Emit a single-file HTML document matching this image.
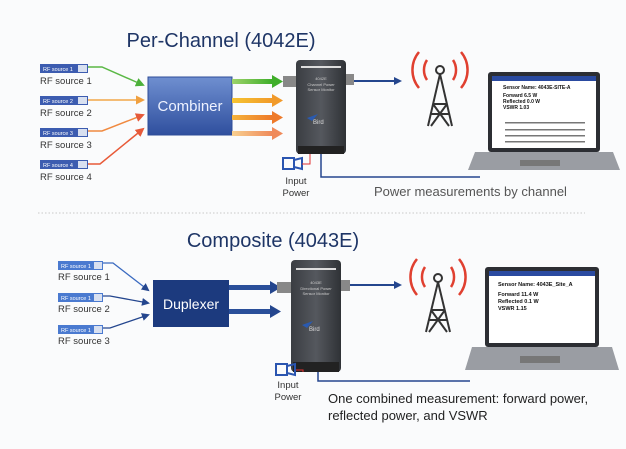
<!DOCTYPE html>
<html><head><style>
html,body{margin:0;padding:0;background:#fafbfc;}
svg{display:block;font-family:"Liberation Sans",sans-serif;}
</style></head><body>
<svg width="626" height="449" viewBox="0 0 626 449" xmlns="http://www.w3.org/2000/svg">
<defs>
<linearGradient id="cb" x1="0" y1="0" x2="0" y2="1"><stop offset="0" stop-color="#6f8fd0"/><stop offset="1" stop-color="#2f4f9e"/></linearGradient>
<linearGradient id="dev" x1="0" y1="0" x2="1" y2="0"><stop offset="0" stop-color="#3a3d42"/><stop offset="0.5" stop-color="#55585e"/><stop offset="1" stop-color="#2f3236"/></linearGradient>
<linearGradient id="g1" x1="0" x2="1"><stop offset="0" stop-color="#9dd36a"/><stop offset="1" stop-color="#3fae2a"/></linearGradient>
<linearGradient id="g2" x1="0" x2="1"><stop offset="0" stop-color="#f6c431"/><stop offset="1" stop-color="#f19a2a"/></linearGradient>
<linearGradient id="g3" x1="0" x2="1"><stop offset="0" stop-color="#f5b33a"/><stop offset="1" stop-color="#ee7a2a"/></linearGradient>
<linearGradient id="g4" x1="0" x2="1"><stop offset="0" stop-color="#f8d090"/><stop offset="1" stop-color="#ef8a5a"/></linearGradient>
<marker id="ab" markerWidth="8" markerHeight="8" refX="6" refY="4" orient="auto" markerUnits="userSpaceOnUse"><path d="M0,0 L8,4 L0,8z" fill="#24468e"/></marker>
<marker id="ag" markerWidth="9" markerHeight="9" refX="7" refY="4.5" orient="auto" markerUnits="userSpaceOnUse"><path d="M0,0 L9,4.5 L0,9z" fill="#4cb03a"/></marker>
<marker id="ao" markerWidth="9" markerHeight="9" refX="7" refY="4.5" orient="auto" markerUnits="userSpaceOnUse"><path d="M0,0 L9,4.5 L0,9z" fill="#f0a040"/></marker>
<marker id="ar" markerWidth="9" markerHeight="9" refX="7" refY="4.5" orient="auto" markerUnits="userSpaceOnUse"><path d="M0,0 L9,4.5 L0,9z" fill="#e65a3a"/></marker>
</defs>

<!-- TOP -->
<text x="221" y="47" font-size="20" fill="#1e3566" text-anchor="middle">Per-Channel (4042E)</text>
<g font-size="9.5" fill="#333">
<g id="src">
</g>
</g>
<!-- rf source badges top -->
<g>
<rect x="40" y="64" width="48" height="9" fill="#3c5cb0"/><rect x="78" y="65" width="9" height="7" fill="#d8e0f0"/><text x="43" y="71" font-size="5.5" fill="#fff">RF source 1</text>
<rect x="40" y="96" width="48" height="9" fill="#3c5cb0"/><rect x="78" y="97" width="9" height="7" fill="#d8e0f0"/><text x="43" y="103" font-size="5.5" fill="#fff">RF source 2</text>
<rect x="40" y="128" width="48" height="9" fill="#3c5cb0"/><rect x="78" y="129" width="9" height="7" fill="#d8e0f0"/><text x="43" y="135" font-size="5.5" fill="#fff">RF source 3</text>
<rect x="40" y="160" width="48" height="9" fill="#3c5cb0"/><rect x="78" y="161" width="9" height="7" fill="#d8e0f0"/><text x="43" y="167" font-size="5.5" fill="#fff">RF source 4</text>
</g>
<g font-size="9.5" fill="#333">
<text x="40" y="84">RF source 1</text><text x="40" y="116">RF source 2</text><text x="40" y="148">RF source 3</text><text x="40" y="180">RF source 4</text>
</g>
<g fill="none" stroke-width="1.5">
<path d="M88,67 L102,67 L143,85" stroke="#5ab845" marker-end="url(#ag)"/>
<path d="M88,100 L143,100" stroke="#f2a848" marker-end="url(#ao)"/>
<path d="M88,131 L102,131 L143,115" stroke="#f08a40" marker-end="url(#ar)"/>
<path d="M88,164 L100,164 L143,129" stroke="#e85a38" marker-end="url(#ar)"/>
</g>
<rect x="148" y="77" width="84" height="58" fill="url(#cb)" stroke="#2e4c98"/>
<text x="190" y="111" font-size="15" fill="#eef2ff" text-anchor="middle">Combiner</text>
<g>
<rect x="232" y="79" width="40" height="5" fill="url(#g1)"/><path d="M272,75 L283,81.5 L272,88z" fill="#3fae2a"/>
<rect x="232" y="98" width="40" height="5" fill="url(#g2)"/><path d="M272,94 L283,100.5 L272,107z" fill="#f19a2a"/>
<rect x="232" y="115" width="40" height="5" fill="url(#g3)"/><path d="M272,111 L283,117.5 L272,124z" fill="#ee7a2a"/>
<rect x="232" y="131" width="40" height="5" fill="url(#g4)"/><path d="M272,127 L283,133.5 L272,140z" fill="#ef8a5a"/>
</g>
<!-- device top -->
<rect x="283" y="76" width="14" height="11" fill="#888"/><rect x="344" y="74" width="10" height="11" fill="#888"/>
<rect x="296" y="60" width="50" height="94" rx="4" fill="url(#dev)"/>
<rect x="301" y="66" width="40" height="2" fill="#ddd"/>
<text x="321" y="80" font-size="4" fill="#ccc" text-anchor="middle">4042E</text>
<text x="321" y="86" font-size="4" fill="#ccc" text-anchor="middle">Channel Power</text>
<text x="321" y="91" font-size="4" fill="#ccc" text-anchor="middle">Sensor Monitor</text>
<path d="M307,118 L318,114 L312,121z" fill="#2a5ab0"/><text x="313" y="124" font-size="6" fill="#ddd">Bird</text>
<rect x="298" y="146" width="46" height="8" fill="#222"/>
<path d="M354,81 L400,81" stroke="#24468e" stroke-width="2" marker-end="url(#ab)"/>
<!-- tower top -->
<g stroke="#e04030" stroke-width="2.5" fill="none">
<path d="M427,80 A18,18 0 0 1 427,60"/><path d="M419,88 A28,28 0 0 1 419,52"/>
<path d="M453,80 A18,18 0 0 0 453,60"/><path d="M461,88 A28,28 0 0 0 461,52"/>
</g>
<g stroke="#333" stroke-width="2" fill="none"><circle cx="440" cy="70" r="4"/><path d="M440,74 L428,126 M440,74 L452,126 M433,104 L447,104 M431,114 L449,114 M433,104 L449,126 M447,104 L431,126"/></g>
<!-- laptop top -->
<rect x="488" y="72" width="112" height="80" rx="3" fill="#2c2e33"/>
<rect x="492" y="76" width="104" height="72" fill="#fff"/><rect x="492" y="76" width="104" height="5" fill="#2a4aa0"/>
<text x="503" y="89" font-size="5" font-weight="bold" fill="#111">Sensor Name: 4043E-SITE-A</text>
<text x="503" y="97" font-size="5" font-weight="bold" fill="#111">Forward      6.5 W</text>
<text x="503" y="103" font-size="5" font-weight="bold" fill="#111">Reflected    0.0 W</text>
<text x="503" y="109" font-size="5" font-weight="bold" fill="#111">VSWR         1.03</text>
<g fill="#777"><rect x="505" y="122" width="80" height="1.5"/><rect x="505" y="129" width="80" height="1.5"/><rect x="505" y="135" width="80" height="1.5"/><rect x="505" y="141" width="80" height="1.5"/></g>
<path d="M475,152 L613,152 L620,170 L468,170z" fill="#9a9da3"/><rect x="520" y="160" width="40" height="6" fill="#777"/>
<!-- input power top -->
<rect x="283" y="158" width="11" height="11" fill="none" stroke="#2a55b0" stroke-width="2"/><path d="M294,160 L302,158 L302,169 L294,167" fill="none" stroke="#2a55b0" stroke-width="2"/>
<path d="M310,154 L310,164 L302,164" stroke="#e03030" fill="none"/>
<text x="296" y="184" font-size="9.5" fill="#333" text-anchor="middle">Input</text><text x="296" y="196" font-size="9.5" fill="#333" text-anchor="middle">Power</text>
<path d="M321,154 L321,177 L480,177" stroke="#24468e" stroke-width="1.5" fill="none"/>
<text x="374" y="196" font-size="13" fill="#555">Power measurements by channel</text>
<line x1="38" y1="213" x2="585" y2="213" stroke="#c8c8c8" stroke-dasharray="1.5,2"/>

<!-- BOTTOM -->
<text x="273" y="247" font-size="20" fill="#1e3566" text-anchor="middle">Composite (4043E)</text>
<g>
<rect x="58" y="261" width="45" height="9" fill="#4a7ad0"/><rect x="94" y="262" width="8" height="7" fill="#d8e0f0"/><text x="61" y="268" font-size="5.5" fill="#fff">RF source 1</text>
<rect x="58" y="293" width="45" height="9" fill="#4a7ad0"/><rect x="94" y="294" width="8" height="7" fill="#d8e0f0"/><text x="61" y="300" font-size="5.5" fill="#fff">RF source 1</text>
<rect x="58" y="325" width="45" height="9" fill="#4a7ad0"/><rect x="94" y="326" width="8" height="7" fill="#d8e0f0"/><text x="61" y="332" font-size="5.5" fill="#fff">RF source 1</text>
</g>
<g font-size="9.5" fill="#333"><text x="58" y="280">RF source 1</text><text x="58" y="312">RF source 2</text><text x="58" y="344">RF source 3</text></g>
<g fill="none" stroke="#24468e" stroke-width="1.3">
<path d="M103,263 L113,263 L148,290" stroke="#3a6ac0" marker-end="url(#ab)"/>
<path d="M103,296 L110,296 L148,303" marker-end="url(#ab)"/>
<path d="M103,328 L110,328 L148,315" marker-end="url(#ab)"/>
</g>
<rect x="153" y="280" width="76" height="47" fill="#1c3a7e"/>
<text x="191" y="309" font-size="14" fill="#fff" text-anchor="middle">Duplexer</text>
<rect x="229" y="285" width="42" height="5" fill="#2a4f9a"/><path d="M270,281 L281,287.5 L270,294z" fill="#24468e"/>
<rect x="229" y="309" width="42" height="5" fill="#2a4f9a"/><path d="M270,305 L281,311.5 L270,318z" fill="#24468e"/>
<!-- device bottom -->
<rect x="277" y="282" width="15" height="11" fill="#888"/><rect x="340" y="280" width="10" height="11" fill="#888"/>
<rect x="291" y="260" width="50" height="112" rx="4" fill="url(#dev)"/>
<rect x="296" y="268" width="40" height="2" fill="#ddd"/>
<text x="316" y="284" font-size="4" fill="#ccc" text-anchor="middle">4043E</text>
<text x="316" y="290" font-size="4" fill="#ccc" text-anchor="middle">Directional Power</text>
<text x="316" y="295" font-size="4" fill="#ccc" text-anchor="middle">Sensor Monitor</text>
<path d="M302,325 L313,321 L307,328z" fill="#2a5ab0"/><text x="309" y="331" font-size="6" fill="#ddd">Bird</text>
<rect x="293" y="362" width="46" height="10" fill="#222"/>
<path d="M350,285 L400,285" stroke="#24468e" stroke-width="2" marker-end="url(#ab)"/>
<g stroke="#e04030" stroke-width="2.5" fill="none">
<path d="M425,287 A18,18 0 0 1 425,267"/><path d="M417,295 A28,28 0 0 1 417,259"/>
<path d="M451,287 A18,18 0 0 0 451,267"/><path d="M459,295 A28,28 0 0 0 459,259"/>
</g>
<g stroke="#333" stroke-width="2" fill="none"><circle cx="438" cy="278" r="4"/><path d="M438,282 L426,332 M438,282 L450,332 M431,310 L445,310 M429,320 L447,320 M431,310 L447,332 M445,310 L429,332"/></g>
<!-- laptop bottom -->
<rect x="485" y="267" width="114" height="80" rx="3" fill="#2c2e33"/>
<rect x="489" y="271" width="106" height="72" fill="#fff"/><rect x="489" y="271" width="106" height="5" fill="#2a4aa0"/>
<text x="498" y="286" font-size="5.5" font-weight="bold" fill="#111">Sensor Name: 4043E_Site_A</text>
<text x="498" y="296" font-size="5.5" font-weight="bold" fill="#111">Forward       11.4 W</text>
<text x="498" y="303" font-size="5.5" font-weight="bold" fill="#111">Reflected     0.1 W</text>
<text x="498" y="310" font-size="5.5" font-weight="bold" fill="#111">VSWR          1.15</text>
<path d="M472,347 L612,347 L619,370 L465,370z" fill="#9a9da3"/><rect x="520" y="356" width="40" height="7" fill="#777"/>
<rect x="276" y="364" width="11" height="11" fill="none" stroke="#2a55b0" stroke-width="2"/><path d="M287,366 L295,364 L295,375 L287,373" fill="none" stroke="#2a55b0" stroke-width="2"/>
<path d="M303,372 L303,370 L296,370" stroke="#e03030" fill="none"/>
<text x="288" y="388" font-size="9.5" fill="#333" text-anchor="middle">Input</text><text x="288" y="400" font-size="9.5" fill="#333" text-anchor="middle">Power</text>
<path d="M318,372 L318,381 L470,381" stroke="#24468e" stroke-width="1.5" fill="none"/>
<text x="328" y="403" font-size="13" fill="#222">One combined measurement: forward power,</text>
<text x="328" y="420" font-size="13" fill="#222">reflected power, and VSWR</text>
</svg>
</body></html>
